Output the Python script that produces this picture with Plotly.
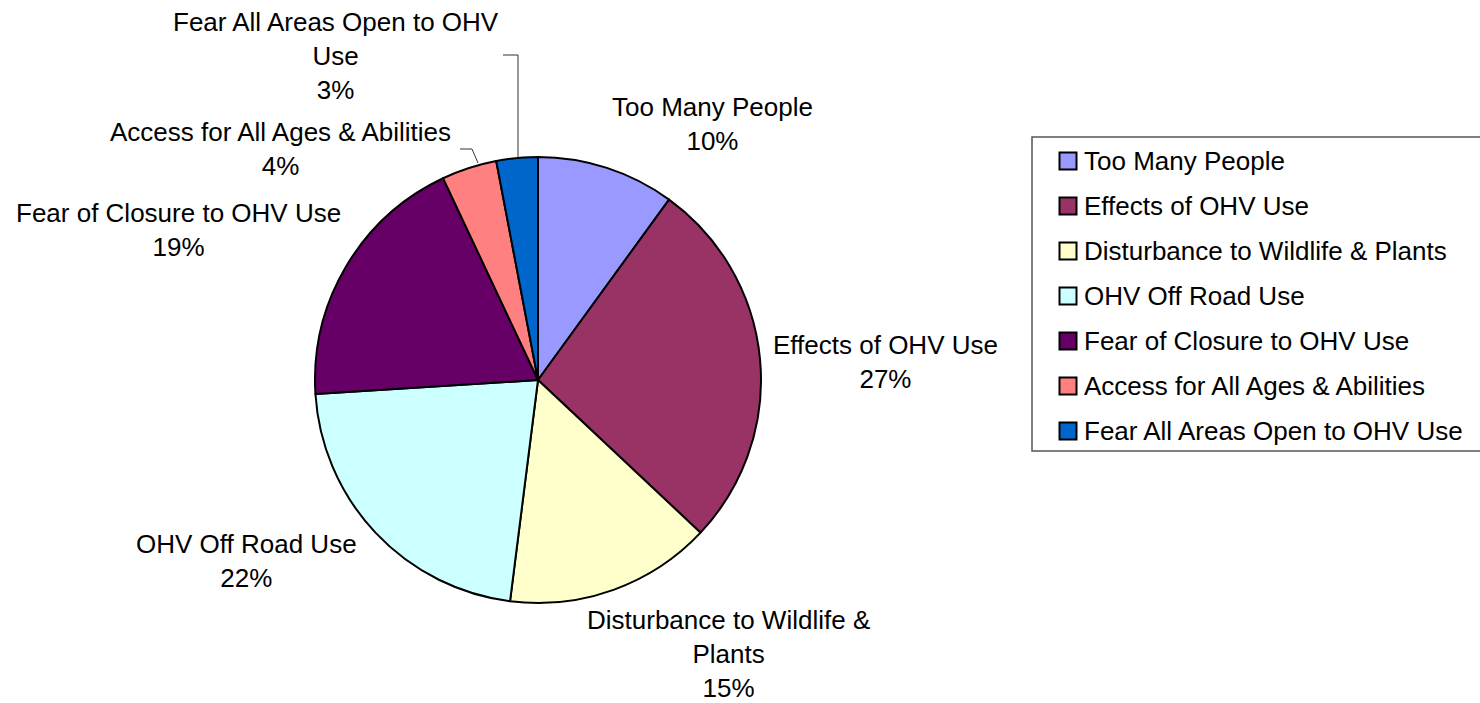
import plotly.graph_objects as go

# Survey responses: share of concerns raised (percent)
categories = [
    "Too Many People",
    "Effects of OHV Use",
    "Disturbance to Wildlife & Plants",
    "OHV Off Road Use",
    "Fear of Closure to OHV Use",
    "Access for All Ages & Abilities",
    "Fear All Areas Open to OHV Use",
]
values = [10, 27, 15, 22, 19, 4, 3]

colors = ["#9999FF", "#993366", "#FFFFCC", "#CCFFFF", "#660066", "#FF8080", "#0066CC"]

# How each category name wraps in its slice label
wrapped_names = [
    "Too Many People",
    "Effects of OHV Use",
    "Disturbance to Wildlife &<br>Plants",
    "OHV Off Road Use",
    "Fear of Closure to OHV Use",
    "Access for All Ages & Abilities",
    "Fear All Areas Open to OHV<br>Use",
]

W, H = 1480, 703
FONT = "Liberation Sans, Arial, sans-serif"
FS = 26


def px(x):
    return x / W


def py(y):
    return 1 - y / H


# Pie geometry (pixels)
cx, cy, r = 538, 380, 223

fig = go.Figure(
    go.Pie(
        labels=categories,
        values=values,
        sort=False,
        direction="clockwise",
        rotation=0,
        textinfo="none",
        hoverinfo="label+percent",
        marker=dict(colors=colors, line=dict(color="black", width=2)),
        domain=dict(x=[px(cx - r), px(cx + r)], y=[py(cy + r), py(cy - r)]),
        showlegend=False,
    )
)

# Slice label centres (pixels)
label_pos = [
    (712, 124),
    (885, 362),
    (728, 654),
    (246, 561),
    (178, 230),
    (280, 149),
    (336, 56),
]

annotations = []
for name, val, (lx, ly) in zip(wrapped_names, values, label_pos):
    annotations.append(
        dict(
            x=px(lx), y=py(ly), xref="paper", yref="paper",
            text=f"{name}<br>{val}%", showarrow=False,
            xanchor="center", yanchor="middle", align="center",
            font=dict(family=FONT, size=FS, color="black"),
        )
    )

shapes = []
# Leader lines for the two small slices
leaders = [
    [(460, 149), (472, 149), (478, 163)],
    [(503, 55), (518, 55), (518, 157)],
]
for pts in leaders:
    path = "M " + " L ".join(f"{px(x)},{py(y)}" for x, y in pts)
    shapes.append(dict(type="path", path=path, xref="paper", yref="paper",
                       line=dict(color="#333333", width=1)))

# Legend box
lg_left, lg_top, lg_bottom, lg_right = 1032, 137, 451, 1484
shapes.append(dict(type="rect", xref="paper", yref="paper",
                   x0=px(lg_left), x1=px(lg_right), y0=py(lg_bottom), y1=py(lg_top),
                   line=dict(color="#555555", width=1.5), fillcolor="rgba(0,0,0,0)"))

row0, row_gap, sq = 161, 45, 17
mk_x = 1068
for i, (name, col) in enumerate(zip(categories, colors)):
    yc = row0 + i * row_gap
    shapes.append(dict(type="rect", xref="paper", yref="paper",
                       x0=px(mk_x - sq / 2), x1=px(mk_x + sq / 2),
                       y0=py(yc + sq / 2), y1=py(yc - sq / 2),
                       line=dict(color="black", width=2), fillcolor=col))
    annotations.append(
        dict(x=px(1082), y=py(yc), xref="paper", yref="paper", text=name,
             showarrow=False, xanchor="left", yanchor="middle",
             font=dict(family=FONT, size=FS, color="black"))
    )

fig.update_layout(
    width=W, height=H,
    margin=dict(l=0, r=0, t=0, b=0),
    paper_bgcolor="white", plot_bgcolor="white",
    annotations=annotations, shapes=shapes,
    font=dict(family=FONT),
)

fig.write_html("out.html")
